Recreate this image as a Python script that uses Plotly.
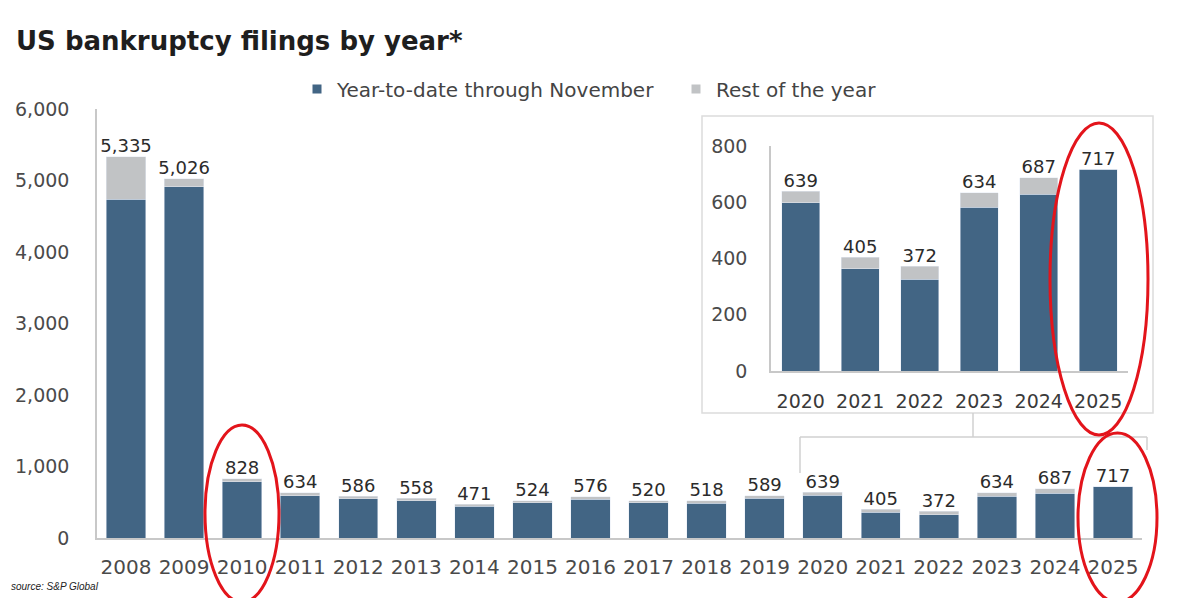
import plotly.graph_objects as go

# Data
years = ['2008', '2009', '2010', '2011', '2012', '2013', '2014', '2015', '2016',
         '2017', '2018', '2019', '2020', '2021', '2022', '2023', '2024', '2025']
totals = [5335, 5026, 828, 634, 586, 558, 471, 524, 576,
          520, 518, 589, 639, 405, 372, 634, 687, 717]
ytd_nov = [4740, 4910, 785, 592, 550, 522, 442, 492, 542,
           490, 488, 556, 598, 363, 326, 582, 628, 717]
rest_of_year = [t - y for t, y in zip(totals, ytd_nov)]

inset_years = years[-6:]
inset_totals = totals[-6:]
inset_ytd = ytd_nov[-6:]
inset_rest = rest_of_year[-6:]

main_ticks = [0, 1000, 2000, 3000, 4000, 5000, 6000]
inset_ticks = [0, 200, 400, 600, 800]

W, H = 1199, 598
BLUE = '#426584'
GREY = '#c1c3c5'
FONT = 'DejaVu Sans'


def px(x):
    return x / W


def py(y):
    return 1 - y / H


fig = go.Figure()

# Main chart
fig.add_trace(go.Bar(x=years, y=ytd_nov, marker_color=BLUE, width=0.68,
                     showlegend=False, xaxis='x', yaxis='y'))
fig.add_trace(go.Bar(x=years, y=rest_of_year, marker_color=GREY, width=0.68,
                     showlegend=False, xaxis='x', yaxis='y'))
fig.add_trace(go.Scatter(x=years, y=totals, mode='text',
                         text=[f'{v:,}' for v in totals], textposition='top center',
                         textfont=dict(family=FONT, size=18, color='#2b2b2b'),
                         showlegend=False, cliponaxis=False, xaxis='x', yaxis='y'))

# Inset chart
fig.add_trace(go.Bar(x=inset_years, y=inset_ytd, marker_color=BLUE, width=0.64,
                     showlegend=False, xaxis='x2', yaxis='y2'))
fig.add_trace(go.Bar(x=inset_years, y=inset_rest, marker_color=GREY, width=0.64,
                     showlegend=False, xaxis='x2', yaxis='y2'))
fig.add_trace(go.Scatter(x=inset_years, y=inset_totals, mode='text',
                         text=[f'{v:,}' for v in inset_totals], textposition='top center',
                         textfont=dict(family=FONT, size=18, color='#2b2b2b'),
                         showlegend=False, cliponaxis=False, xaxis='x2', yaxis='y2'))

# legend-only entries, small square swatches like the original
for name, col in [('Year-to-date through November', BLUE), ('Rest of the year', GREY)]:
    fig.add_trace(go.Scatter(x=[None], y=[None], mode='markers', name=name,
                             marker=dict(symbol='square', size=9, color=col),
                             xaxis='x', yaxis='y'))

axis_line = dict(showline=True, linecolor='#c8c8c8', linewidth=1.5, automargin=False,
                 showgrid=False, zeroline=False, ticks='')

fig.update_layout(
    width=W, height=H,
    margin=dict(l=0, r=0, t=0, b=0, pad=0, autoexpand=False),
    paper_bgcolor='white', plot_bgcolor='rgba(0,0,0,0)',
    barmode='stack',
    xaxis=dict(domain=[px(97), px(1142)], type='category', anchor='y',
               range=[-0.5, len(years) - 0.5],
               tickfont=dict(family=FONT, size=20, color='#4a4a4a'),
               ticklabelstandoff=10, **axis_line),
    yaxis=dict(domain=[py(538), py(109)], range=[0, 6000], anchor='x',
               tickvals=main_ticks, tickformat=',d',
               tickfont=dict(family=FONT, size=19, color='#4a4a4a'),
               ticklabelstandoff=22, **axis_line),
    xaxis2=dict(domain=[px(771), px(1128)], type='category', anchor='y2',
                range=[-0.5, len(inset_years) - 0.5],
                tickfont=dict(family=FONT, size=19, color='#3a3a3a'),
                ticklabelstandoff=12, **axis_line),
    yaxis2=dict(domain=[py(371), py(146)], range=[0, 800], anchor='x2',
                tickvals=inset_ticks,
                tickfont=dict(family=FONT, size=19, color='#4a4a4a'),
                ticklabelstandoff=18, **axis_line),
    legend=dict(orientation='h', x=px(297), y=py(89), xanchor='left', yanchor='middle',
                font=dict(family=FONT, size=20, color='#444444'),
                entrywidth=334, entrywidthmode='pixels', traceorder='normal'),
    showlegend=True,
)

# Title and source
fig.add_annotation(text='<b>US bankruptcy filings by year*</b>', x=px(14), y=py(41),
                   xref='paper', yref='paper', xanchor='left', yanchor='middle',
                   showarrow=False, font=dict(family=FONT, size=26, color='#1e1e1e'))
fig.add_annotation(text='<i>source: S&P Global</i>', x=px(9), y=py(586),
                   xref='paper', yref='paper', xanchor='left', yanchor='middle',
                   showarrow=False, font=dict(family='Liberation Sans', size=10, color='#222222'))

# Inset frame and connector lines
fig.add_shape(type='rect', xref='paper', yref='paper', layer='below',
              x0=px(702), x1=px(1153), y0=py(413), y1=py(116),
              line=dict(color='#dcdcdc', width=1.5), fillcolor='white')
connector = dict(color='#d0d0d0', width=1.5)
fig.add_shape(type='line', xref='paper', yref='paper', x0=px(973), x1=px(973),
              y0=py(413), y1=py(437), line=connector)
fig.add_shape(type='line', xref='paper', yref='paper', x0=px(800), x1=px(1147),
              y0=py(437), y1=py(437), line=connector)
fig.add_shape(type='line', xref='paper', yref='paper', x0=px(800), x1=px(800),
              y0=py(437), y1=py(473), line=connector)
fig.add_shape(type='line', xref='paper', yref='paper', x0=px(1147), x1=px(1147),
              y0=py(437), y1=py(450), line=connector)

# Red highlight ellipses
red = dict(color='#e3141b', width=3)
fig.add_shape(type='circle', xref='paper', yref='paper', line=red,
              x0=px(205), x1=px(279), y0=py(602), y1=py(425))
fig.add_shape(type='circle', xref='paper', yref='paper', line=red,
              x0=px(1078), x1=px(1157), y0=py(602), y1=py(433))
fig.add_shape(type='circle', xref='paper', yref='paper', line=red,
              x0=px(1050), x1=px(1148), y0=py(435), y1=py(123))

# page margin off so the figure sits at the window corner
fig.write_html("out.html", config={'displayModeBar': False},
               post_script="document.body.style.margin='0px';document.body.style.overflow='hidden';")
